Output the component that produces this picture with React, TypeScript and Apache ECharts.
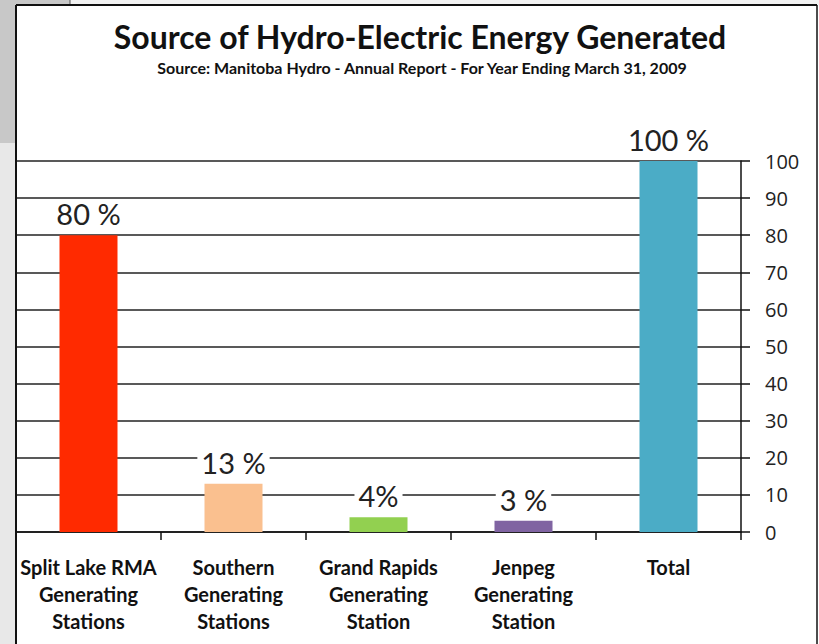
import React, { useEffect, useRef } from "react";
import * as echarts from "echarts";

const categories = [
  "Split Lake RMA\nGenerating\nStations",
  "Southern\nGenerating\nStations",
  "Grand Rapids\nGenerating\nStation",
  "Jenpeg\nGenerating\nStation",
  "Total",
];
const values = [80, 13, 4, 3, 100];
const valueLabels = ["80 %", "13 %", "4%", "3 %", "100 %"];
const barColors = ["#ff2a00", "#fac08f", "#92d050", "#8064a2", "#4bacc6"];
const yMin = 0;
const yMax = 100;
const yInterval = 10;
const titleText = "Source of Hydro-Electric Energy Generated";
const subtitleText = "Source: Manitoba Hydro - Annual Report - For Year Ending March 31, 2009";

export default function App() {
  const ref = useRef<HTMLDivElement>(null);
  useEffect(() => {
    if (!ref.current) return;
    const chart = echarts.init(ref.current, null, { renderer: "svg" });
    const option: any = {
      animation: false,
      backgroundColor: "#ffffff",
      graphic: [
        { type: "rect", z: -10, shape: { x: 0, y: 0, width: 16, height: 143 }, style: { fill: "#c8c8c8" } },
        { type: "rect", z: -10, shape: { x: 0, y: 143, width: 16, height: 501 }, style: { fill: "#e8e8e8" } },
        { type: "rect", z: -10, shape: { x: 0, y: 0, width: 70, height: 5 }, style: { fill: "#c8c8c8" } },
        { type: "rect", z: -10, shape: { x: 70, y: 0, width: 749, height: 5 }, style: { fill: "#f2f2f2" } },
        { type: "line", z: 10, shape: { x1: 70, y1: 0, x2: 70, y2: 5 }, style: { stroke: "#555", lineWidth: 1 } },
        { type: "line", z: 10, shape: { x1: 16, y1: 5, x2: 817, y2: 5 }, style: { stroke: "#111", lineWidth: 2 } },
        { type: "line", z: 10, shape: { x1: 16, y1: 5, x2: 16, y2: 644 }, style: { stroke: "#111", lineWidth: 2 } },
        { type: "line", z: 10, shape: { x1: 817, y1: 5, x2: 817, y2: 644 }, style: { stroke: "#111", lineWidth: 1.5 } },
        {
          type: "text",
          x: 420,
          y: 36,
          style: {
            text: titleText,
            fontFamily: "Lato",
            fontWeight: "bold",
            fontSize: 32,
            fill: "#111",
            align: "center",
            verticalAlign: "middle",
          },
        },
        {
          type: "text",
          x: 422,
          y: 67,
          style: {
            text: subtitleText,
            fontFamily: "Lato",
            fontWeight: "bold",
            fontSize: 16,
            fill: "#111",
            align: "center",
            verticalAlign: "middle",
          },
        },
      ],
      grid: { left: 16, right: 78, top: 161, bottom: 112, containLabel: false },
      xAxis: {
        type: "category",
        data: categories,
        boundaryGap: true,
        axisLine: { show: true, lineStyle: { color: "#111", width: 1.5 } },
        axisTick: { show: true, length: 8, lineStyle: { color: "#111", width: 1.5 } },
        axisLabel: {
          interval: 0,
          margin: 21,
          fontFamily: "Lato",
          fontWeight: "bold",
          fontSize: 20,
          lineHeight: 27,
          color: "#111",
        },
        splitLine: { show: false },
      },
      yAxis: {
        type: "value",
        position: "right",
        min: yMin,
        max: yMax,
        interval: yInterval,
        axisLine: { show: true, lineStyle: { color: "#111", width: 1.5 } },
        axisTick: { show: true, length: 9, lineStyle: { color: "#111", width: 1.5 } },
        axisLabel: {
          margin: 24,
          fontFamily: "Open Sans",
          fontSize: 20,
          color: "#222",
        },
        splitLine: { show: true, lineStyle: { color: "#222", width: 1.6 } },
      },
      series: [
        {
          type: "bar",
          barWidth: "40%",
          data: values.map((v, i) => ({
            value: v,
            itemStyle: { color: barColors[i] },
            label: {
              show: true,
              position: "top",
              distance: 7,
              formatter: valueLabels[i],
              fontFamily: "Lato",
              fontSize: 29,
              color: "#222",
              backgroundColor: "#ffffff",
              padding: [0, 4],
            },
          })),
        },
      ],
    };
    chart.setOption(option);
    return () => chart.dispose();
  }, []);
  return (
    <div
      ref={ref}
      style={{ position: "absolute", left: 0, top: 0, width: 819, height: 644 }}
    />
  );
}
